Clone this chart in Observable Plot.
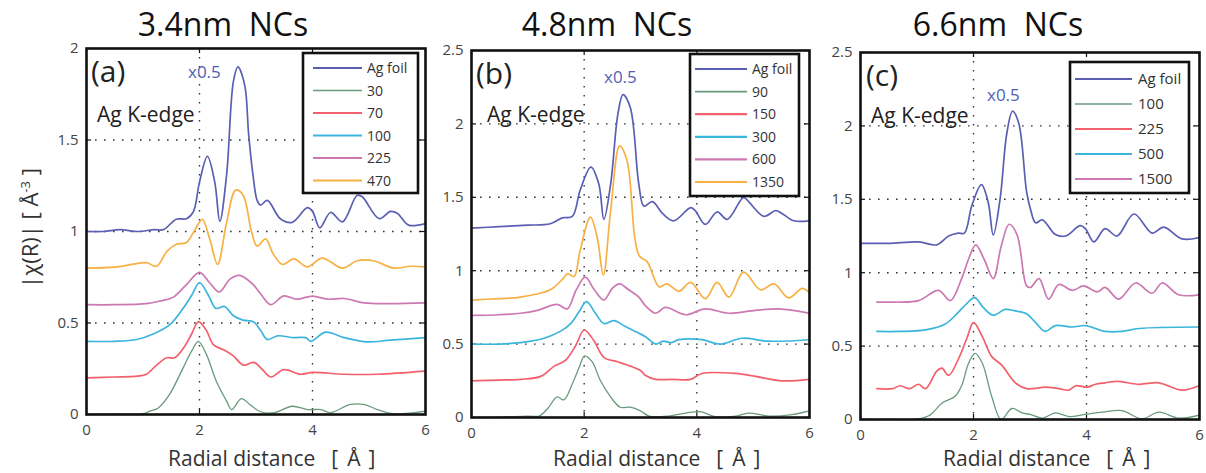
<!DOCTYPE html>
<html><head><meta charset="utf-8">
<script src="https://cdn.jsdelivr.net/npm/d3@7"></script>
<script src="https://cdn.jsdelivr.net/npm/@observablehq/plot@0.6"></script>
<style>
body{margin:0;background:#fff;font-family:"Open Sans",sans-serif;}
#root{position:relative;width:1206px;height:473px;overflow:hidden;background:#fff;}
#root > svg, #root > figure{position:absolute;top:0;margin:0;}
</style></head><body><div id="root"></div>
<script>
// ---------- data ----------
const X_TICKS = [0, 2, 4, 6];
const A_Y_TICKS = [0, 0.5, 1, 1.5, 2];
const BC_Y_TICKS = [0, 0.5, 1, 1.5, 2, 2.5];
const panelTitles = ["3.4nm  NCs", "4.8nm  NCs", "6.6nm  NCs"];
const panelTags = ["(a)", "(b)", "(c)"];
const edgeLabel = "Ag K-edge";
const scaleNote = "x0.5";
const aLabels = ["Ag foil", "30", "70", "100", "225", "470"];
const bLabels = ["Ag foil", "90", "150", "300", "600", "1350"];
const cLabels = ["Ag foil", "100", "225", "500", "1500"];
const C_FOIL = "#5b5fb3", C_GREEN = "#6a9a7c", C_RED = "#f2606c", C_CYAN = "#3bb5dc", C_PINK = "#cc78b2", C_ORANGE = "#f7b043";
const aColors = [C_FOIL, C_GREEN, C_RED, C_CYAN, C_PINK, C_ORANGE];
const bColors = [C_FOIL, C_GREEN, C_RED, C_CYAN, C_PINK, C_ORANGE];
const cColors = [C_FOIL, C_GREEN, C_RED, C_CYAN, C_PINK];

// panel (a) 3.4 nm
const aFoil = [[0,1.0],[0.3,1.0],[0.6,1.01],[0.9,1.0],[1.2,1.01],[1.36,1.01],[1.59,1.067],[1.77,1.07],[1.89,1.107],[2.0,1.27],[2.14,1.41],[2.27,1.27],[2.36,1.056],[2.48,1.31],[2.6,1.82],[2.68,1.90],[2.8,1.80],[2.87,1.53],[2.95,1.30],[3.02,1.17],[3.08,1.144],[3.2,1.17],[3.43,1.07],[3.64,1.05],[3.91,1.13],[4.0,1.11],[4.13,1.02],[4.32,1.104],[4.53,1.053],[4.79,1.198],[4.88,1.19],[5.18,1.07],[5.38,1.11],[5.5,1.10],[5.7,1.035],[6.0,1.044]];
const a30 = [[0,0],[0.5,0.003],[1.0,0.005],[1.12,0.018],[1.27,0.036],[1.47,0.11],[1.71,0.255],[1.86,0.346],[1.98,0.40],[2.12,0.33],[2.3,0.18],[2.48,0.073],[2.57,0.027],[2.74,0.087],[2.89,0.055],[3.08,0.015],[3.32,0.01],[3.64,0.045],[3.91,0.027],[4.15,0.027],[4.32,0.01],[4.67,0.055],[4.91,0.055],[5.15,0.027],[5.44,0.004],[6.0,0.018]];
const a70 = [[0,0.20],[0.5,0.205],[0.9,0.21],[1.06,0.22],[1.24,0.27],[1.42,0.31],[1.56,0.31],[1.71,0.36],[1.86,0.44],[1.98,0.507],[2.12,0.46],[2.25,0.38],[2.45,0.35],[2.6,0.32],[2.78,0.27],[2.96,0.285],[3.1,0.25],[3.26,0.205],[3.49,0.245],[3.79,0.22],[4.0,0.23],[4.56,0.22],[5.15,0.22],[6.0,0.237]];
const a100 = [[0,0.40],[0.5,0.40],[0.89,0.41],[1.18,0.44],[1.47,0.49],[1.71,0.58],[1.86,0.65],[2.0,0.72],[2.16,0.65],[2.29,0.58],[2.44,0.59],[2.6,0.54],[2.77,0.516],[2.96,0.506],[3.08,0.46],[3.2,0.41],[3.38,0.43],[3.67,0.42],[3.88,0.42],[3.97,0.40],[4.23,0.45],[4.56,0.42],[4.94,0.397],[5.38,0.406],[6.0,0.42]];
const a225 = [[0,0.60],[0.5,0.60],[1.06,0.606],[1.3,0.62],[1.53,0.64],[1.77,0.71],[2.0,0.777],[2.18,0.72],[2.35,0.67],[2.54,0.74],[2.71,0.76],[2.95,0.71],[3.08,0.66],[3.26,0.60],[3.49,0.648],[3.72,0.63],[4.0,0.647],[4.26,0.63],[4.56,0.634],[4.91,0.61],[5.38,0.606],[6.0,0.61]];
const a470 = [[0,0.80],[0.5,0.805],[0.8,0.82],[1.06,0.83],[1.24,0.81],[1.42,0.89],[1.59,0.93],[1.77,0.94],[1.92,1.01],[2.05,1.066],[2.18,0.96],[2.32,0.82],[2.48,1.05],[2.64,1.226],[2.77,1.20],[2.92,1.0],[3.02,0.92],[3.17,0.96],[3.3,0.88],[3.47,0.82],[3.67,0.85],[3.91,0.807],[4.17,0.855],[4.53,0.80],[4.79,0.84],[5.08,0.84],[5.44,0.80],[5.73,0.81],[6.0,0.806]];

// panel (b) 4.8 nm
const bFoil = [[0,1.29],[0.5,1.30],[1.0,1.31],[1.4,1.32],[1.61,1.36],[1.79,1.37],[1.93,1.55],[2.12,1.705],[2.26,1.59],[2.35,1.35],[2.47,1.59],[2.6,2.07],[2.69,2.20],[2.82,2.11],[2.97,1.59],[3.06,1.44],[3.21,1.47],[3.39,1.39],[3.59,1.34],[3.89,1.43],[3.97,1.41],[4.15,1.315],[4.36,1.40],[4.54,1.35],[4.83,1.50],[4.92,1.47],[5.19,1.37],[5.4,1.41],[5.51,1.39],[5.72,1.34],[6.0,1.34]];
const b90 = [[0,0],[0.5,0.003],[1.0,0.01],[1.2,0.01],[1.35,0.06],[1.52,0.14],[1.64,0.12],[1.79,0.23],[1.91,0.34],[2.01,0.42],[2.14,0.38],[2.29,0.25],[2.47,0.14],[2.64,0.07],[2.82,0.07],[3.0,0.045],[3.15,0.01],[3.5,0.01],[3.8,0.03],[4.06,0.04],[4.33,0.005],[4.69,0.01],[4.92,0.03],[5.27,0.01],[5.69,0.02],[6.0,0.045]];
const b150 = [[0,0.25],[0.5,0.255],[0.87,0.26],[1.23,0.28],[1.47,0.35],[1.67,0.39],[1.85,0.49],[2.0,0.596],[2.17,0.525],[2.35,0.41],[2.59,0.38],[2.82,0.35],[3.0,0.32],[3.09,0.286],[3.27,0.26],[3.56,0.26],[3.89,0.26],[4.09,0.30],[4.69,0.30],[5.04,0.28],[5.51,0.25],[6.0,0.26]];
const b300 = [[0,0.50],[0.5,0.50],[0.87,0.51],[1.29,0.54],[1.59,0.59],[1.76,0.64],[1.91,0.72],[2.04,0.79],[2.2,0.71],[2.35,0.64],[2.53,0.66],[2.73,0.62],[2.94,0.58],[3.09,0.55],[3.27,0.50],[3.4,0.52],[3.55,0.51],[3.68,0.53],[4.09,0.53],[4.42,0.50],[4.8,0.54],[5.27,0.52],[6.0,0.53]];
const b600 = [[0,0.695],[0.5,0.70],[0.87,0.71],[1.17,0.73],[1.52,0.77],[1.7,0.74],[1.86,0.87],[2.02,0.956],[2.18,0.87],[2.35,0.80],[2.5,0.88],[2.63,0.91],[2.79,0.87],[2.97,0.82],[3.09,0.76],[3.27,0.71],[3.44,0.75],[3.8,0.70],[4.15,0.74],[4.57,0.71],[5.04,0.73],[5.46,0.74],[6.0,0.71]];
const b1350 = [[0,0.80],[0.5,0.81],[0.87,0.82],[1.4,0.87],[1.61,0.94],[1.71,0.98],[1.82,0.96],[1.93,1.14],[2.11,1.365],[2.23,1.23],[2.34,0.97],[2.47,1.41],[2.63,1.85],[2.76,1.75],[2.9,1.22],[2.98,1.10],[3.12,1.06],[3.33,0.89],[3.47,0.91],[3.68,0.86],[3.89,0.92],[4.15,0.81],[4.36,0.92],[4.57,0.82],[4.83,0.99],[5.13,0.87],[5.37,0.91],[5.63,0.815],[5.87,0.88],[6.0,0.85]];

// panel (c) 6.6 nm
const cFoil = [[0,1.20],[0.5,1.20],[1.03,1.21],[1.35,1.19],[1.56,1.25],[1.73,1.27],[1.84,1.27],[1.97,1.456],[2.14,1.60],[2.26,1.48],[2.35,1.256],[2.47,1.50],[2.59,1.95],[2.69,2.10],[2.8,2.02],[2.94,1.55],[3.01,1.43],[3.1,1.34],[3.22,1.36],[3.45,1.26],[3.63,1.25],[3.89,1.32],[3.98,1.30],[4.13,1.21],[4.33,1.30],[4.54,1.25],[4.84,1.40],[5.16,1.27],[5.37,1.31],[5.69,1.23],[6.0,1.24]];
const c100 = [[0,0],[0.5,0],[1.0,0.003],[1.23,0.03],[1.44,0.11],[1.68,0.16],[1.79,0.23],[1.91,0.38],[2.03,0.45],[2.16,0.38],[2.32,0.16],[2.49,0.0],[2.68,0.075],[2.86,0.045],[3.0,0.035],[3.22,0.01],[3.45,0.045],[3.69,0.02],[3.98,0.035],[4.28,0.05],[4.63,0.06],[4.98,0.005],[5.28,0.05],[5.63,0.01],[6.0,0.03]];
const c225 = [[0.29,0.21],[0.57,0.21],[0.7,0.23],[0.87,0.21],[1.03,0.24],[1.15,0.21],[1.35,0.33],[1.44,0.35],[1.56,0.30],[1.73,0.41],[1.88,0.55],[2.0,0.66],[2.15,0.57],[2.32,0.43],[2.5,0.37],[2.74,0.25],[2.94,0.21],[3.27,0.22],[3.51,0.21],[3.69,0.20],[3.81,0.23],[4.01,0.22],[4.16,0.24],[4.33,0.25],[4.54,0.26],[4.93,0.24],[5.28,0.25],[5.69,0.20],[6.0,0.23]];
const c500 = [[0.29,0.60],[0.7,0.60],[1.15,0.61],[1.5,0.65],[1.73,0.73],[1.88,0.79],[2.02,0.83],[2.18,0.76],[2.35,0.71],[2.56,0.75],[2.74,0.74],[2.94,0.72],[3.1,0.66],[3.27,0.60],[3.45,0.64],[3.75,0.63],[3.98,0.64],[4.33,0.60],[4.63,0.60],[4.93,0.62],[6.0,0.63]];
const c1500 = [[0.29,0.80],[0.6,0.80],[1.03,0.81],[1.38,0.88],[1.59,0.81],[1.79,0.96],[1.91,1.09],[2.04,1.19],[2.19,1.09],[2.35,0.96],[2.49,1.18],[2.63,1.33],[2.77,1.26],[2.94,0.91],[3.01,0.90],[3.16,0.96],[3.33,0.82],[3.51,0.92],[3.75,0.88],[3.95,0.91],[4.19,0.87],[4.33,0.90],[4.57,0.82],[4.87,0.93],[5.16,0.86],[5.34,0.93],[5.63,0.85],[6.0,0.85]];

// ---------- layout ----------
const H = 473;
const panels = [
  {left:0,   width:430, ml:86, mr:5, mt:48, mb:59, yMax:2,   yTicks:A_Y_TICKS,  series:[aFoil,a30,a70,a100,a225,a470], colors:aColors, labels:aLabels},
  {left:430, width:385, ml:41, mr:6, mt:50, mb:56, yMax:2.5, yTicks:BC_Y_TICKS, series:[bFoil,b90,b150,b300,b600,b1350], colors:bColors, labels:bLabels},
  {left:815, width:391, ml:45, mr:7, mt:52, mb:54, yMax:2.5, yTicks:BC_Y_TICKS, series:[cFoil,c100,c225,c500,c1500], colors:cColors, labels:cLabels},
];
const root = document.getElementById("root");
const fmt = d => String(d);

panels.forEach(p => {
  const iw = p.width - p.ml - p.mr, ih = H - p.mt - p.mb;
  const inner = p.yTicks.filter(v => v > 0 && v < p.yMax);
  const gridStyle = {stroke:"#333", strokeOpacity:1, strokeWidth:1.4, strokeDasharray:"1.6,7.4"};
  const order = p.series.map((s,i)=>i).reverse();
  const chart = Plot.plot({
    width: p.width, height: H,
    marginLeft: p.ml, marginRight: p.mr, marginTop: p.mt, marginBottom: p.mb,
    x: {domain:[0,6]},
    y: {domain:[0,p.yMax]},
    style: {fontFamily:"'Open Sans', sans-serif", fontSize:"15px", color:"#444", background:"transparent", overflow:"visible"},
    marks: [
      Plot.gridX([2,4], gridStyle),
      Plot.gridY(inner, gridStyle),
      Plot.tickY(p.yTicks, {y:d=>d, insetRight: iw-5, stroke:"#111", strokeWidth:1.2}),
      Plot.tickY(p.yTicks, {y:d=>d, insetLeft: iw-5, stroke:"#111", strokeWidth:1.2}),
      Plot.tickX(X_TICKS, {x:d=>d, insetTop: ih-5, stroke:"#111", strokeWidth:1.2}),
      Plot.tickX(X_TICKS, {x:d=>d, insetBottom: ih-5, stroke:"#111", strokeWidth:1.2}),
      ...order.map(i => Plot.line(p.series[i], {
        x: d=>d[0], y: d=>d[1], stroke: p.colors[i],
        strokeWidth: i === 1 ? 1.3 : 1.7, curve:"catmull-rom", clip:true
      })),
      Plot.axisX(X_TICKS, {tickSize:0, tickPadding:10, label:null, tickFormat:fmt, fill:"#444"}),
      Plot.axisY(p.yTicks, {tickSize:0, tickPadding:8, label:null, tickFormat:fmt, fill:"#444"}),
      Plot.frame({stroke:"#111", strokeWidth:2.6})
    ]
  });
  chart.style.position = "absolute";
  chart.style.left = p.left + "px";
  chart.style.top = "0px";
  root.appendChild(chart);
});

// ---------- overlay text: titles, labels, annotations, legends ----------
const ov = d3.select(root).append("svg")
  .attr("width",1206).attr("height",H)
  .style("position","absolute").style("left","0px").style("top","0px")
  .style("font-family","'Open Sans', sans-serif");

const titlePos = [[223,36],[607,36],[998,36]];
panelTitles.forEach((t,i)=> ov.append("text").attr("x",titlePos[i][0]).attr("y",titlePos[i][1])
  .attr("text-anchor","middle").attr("font-size",32).attr("fill","#111").attr("xml:space","preserve").text(t));

const xlabStart = [168, 553, 943];
xlabStart.forEach(x0 => {
  const t = ov.append("text").attr("x",x0).attr("y",466).attr("font-size",21).attr("fill","#333");
  t.append("tspan").text("Radial distance");
  t.append("tspan").attr("dx",16).text("[");
  t.append("tspan").attr("dx",9).text("Å");
  t.append("tspan").attr("dx",8).text("]");
});

const yl = ov.append("text").attr("transform","translate(38,228) rotate(-90)")
  .attr("text-anchor","middle").attr("font-size",22).attr("fill","#333");
yl.append("tspan").text("|χ(R)| [ Å");
yl.append("tspan").attr("dy",-8).attr("font-size",13).text("-3");
yl.append("tspan").attr("dy",8).text(" ]");

const tagPos = [[91,82],[476,84],[866,86]];
panelTags.forEach((t,i)=> ov.append("text").attr("x",tagPos[i][0]).attr("y",tagPos[i][1])
  .attr("font-size",30).attr("fill","#222").text(t));
const edgePos = [[97,122],[487,122],[871,123]];
edgePos.forEach(p => ov.append("text").attr("x",p[0]).attr("y",p[1]).attr("font-size",21).attr("fill","#222").text(edgeLabel));
const notePos = [[188,78],[604,83],[987,101]];
notePos.forEach(p => ov.append("text").attr("x",p[0]).attr("y",p[1]).attr("font-size",17).attr("fill","#5060b5").text(scaleNote));

const legends = [
  {x:303, y:53, w:115, h:140, l1:313, l2:362, tx:367, r0:68, step:22.5, fs:14},
  {x:690, y:54, w:109, h:142, l1:695, l2:747, tx:752, r0:69, step:22.6, fs:14},
  {x:1070, y:62, w:119, h:131, l1:1075, l2:1132, tx:1138, r0:79, step:25, fs:15}
];
legends.forEach((L,k) => {
  const p = panels[k];
  const g = ov.append("g");
  g.append("rect").attr("x",L.x).attr("y",L.y).attr("width",L.w).attr("height",L.h)
    .attr("fill","#fff").attr("stroke","#111").attr("stroke-width",2.6);
  p.labels.forEach((lab,i) => {
    const yy = L.r0 + i*L.step;
    g.append("line").attr("x1",L.l1).attr("x2",L.l2).attr("y1",yy).attr("y2",yy)
      .attr("stroke",p.colors[i]).attr("stroke-width", i===1 ? 1.6 : 2.2);
    g.append("text").attr("x",L.tx).attr("y",yy+5).attr("font-size",L.fs).attr("fill","#333").text(lab);
  });
});
</script>
</body></html>
